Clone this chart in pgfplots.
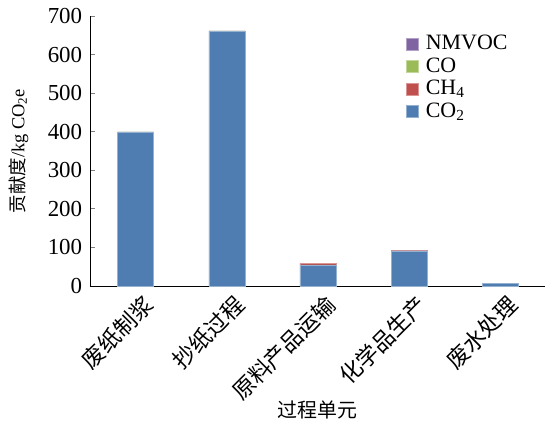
\documentclass[border=0pt]{standalone}
\usepackage{fontspec}
\setmainfont{Liberation Serif}
\newfontfamily\cjk{Noto Sans CJK SC}
\usepackage{pgfplots}
\pgfplotsset{compat=1.18}
\definecolor{cotwo}{HTML}{4F7DB1}
\definecolor{chfour}{HTML}{C0504D}
\definecolor{coc}{HTML}{9BBB59}
\definecolor{nmvoc}{HTML}{8064A2}
\begin{document}
\fontsize{20}{24}\selectfont
\begin{tikzpicture}
\path[use as bounding box] (-90bp,-137bp) rectangle (455bp,286bp);
\begin{axis}[
  scale only axis, width=455bp, height=270bp,
  ybar stacked, bar width=36bp,
  xmin=-0.5, xmax=4.49, ymin=0, ymax=700,
  ytick={0,100,...,700},
  xtick={0,1,2,3,4},
  xticklabels={{\cjk 废纸制浆},{\cjk 抄纸过程},{\cjk 原料产品运输},{\cjk 化学品生产},{\cjk 废水处理}},
  xticklabel style={xshift=6bp, yshift=-7bp, rotate=45, anchor=north east, inner sep=0pt, font=\fontsize{22.5}{24}\selectfont},
  major x tick style={draw=none},
  extra x ticks={0.5,1.5,2.5,3.5},
  extra x tick labels={},
  extra x tick style={major tick length=5bp, tick style={draw=black, line width=0.8pt}, tick align=inside},
  tick align=inside,
  major tick length=5bp,
  y tick style={line width=0.8pt},
  axis x line*=bottom, axis y line*=left,
  axis line style={line width=0.8pt, -},
  /pgf/number format/assume math mode=true,
  yticklabel style={font=\fontsize{23}{26}\selectfont, xshift=-1bp},
  xlabel={\cjk 过程单元},
  xlabel style={font=\fontsize{20}{24}\selectfont, at={(axis description cs:0.5,0)}, anchor=center, yshift=-124bp},
  ylabel={{\cjk 贡献度}/kg CO\textsubscript{2}e},
  ylabel style={font=\fontsize{18.5}{22}\selectfont, yshift=6bp},
  legend style={draw=none, fill=none, at={(0.694,0.93)}, anchor=north west, font=\fontsize{22}{24}\selectfont, row sep=5bp, inner sep=0pt, nodes={inner xsep=7.5bp, inner ysep=0pt}},
  legend cell align=left,
  legend image code/.code={\fill[#1] (0bp,-6bp) rectangle (12bp,6bp);},
  reverse legend,
]
\addplot[fill=cotwo, draw=cotwo!60!white, line width=0.4pt] coordinates {(0,398) (1,660) (2,55) (3,91) (4,7)};
\addplot[fill=chfour, draw=chfour!60!white, line width=0.4pt] coordinates {(0,0.5) (1,0.5) (2,3.5) (3,1.5) (4,0.3)};
\addplot[fill=coc, draw=coc!60!white, line width=0.4pt] coordinates {(0,0.8) (1,0.8) (2,0.3) (3,0.5) (4,0.2)};
\addplot[fill=nmvoc, draw=nmvoc!60!white, line width=0.4pt] coordinates {(0,0.2) (1,0.2) (2,0.1) (3,0.1) (4,0.1)};
\legend{CO\textsubscript{2}, CH\textsubscript{4}, CO, NMVOC}
\end{axis}
\end{tikzpicture}
\end{document}
